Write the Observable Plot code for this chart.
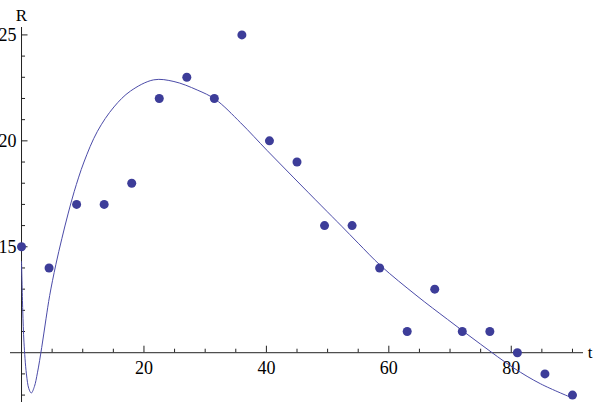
<!DOCTYPE html>
<html>
<head>
<meta charset="utf-8">
<script src="https://cdn.jsdelivr.net/npm/d3@7"></script>
<script src="https://cdn.jsdelivr.net/npm/@observablehq/plot@0.6"></script>
<style>
  html, body { margin: 0; padding: 0; background: #fff; }
  svg text { font-family: "Liberation Serif", "Times New Roman", serif !important; }
</style>
</head>
<body>
<div id="chart"></div>
<script>
// Observed data points
const tValues = [0, 4.5, 9, 13.5, 18, 22.5, 27, 31.5, 36, 40.5, 45, 49.5, 54, 58.5, 63, 67.5, 72, 76.5, 81, 85.5, 90];
const rValues = [15, 14, 17, 17, 18, 22, 23, 22, 25, 20, 19, 16, 16, 14, 11, 13, 11, 11, 10, 9, 8];

// Fitted curve
const fitT = [0, 0.2, 0.4, 0.8, 1.2, 1.6, 2.1, 2.6, 3.3, 4.0, 4.6, 5.6, 6.6, 7.6, 8.6, 10.2, 12.4, 15.1, 17.8, 21.6, 24.9, 28.7, 31.7, 35.8, 40.1, 44.5, 49.0, 52.3, 55.0, 58.7, 64.6, 69.6, 75.0, 80.4, 84.8, 90];
const fitR = [14.3, 12.0, 10.5, 9.0, 8.3, 8.1, 8.4, 9.05, 10.25, 11.6, 12.7, 14.15, 15.4, 16.55, 17.6, 19.0, 20.45, 21.6, 22.35, 22.88, 22.8, 22.4, 21.95, 20.85, 19.55, 18.25, 16.93, 15.97, 15.17, 14.1, 12.68, 11.57, 10.4, 9.28, 8.53, 7.86];

// Axes
const xMajorTicks = [20, 40, 60, 80];
const xMinorTicks = [5, 10, 15, 25, 30, 35, 45, 50, 55, 65, 70, 75, 85, 90];
const yMajorTicks = [15, 20, 25];
const yMinorTicks = [8, 9, 11, 12, 13, 14, 16, 17, 18, 19, 21, 22, 23, 24];
const xAxisExtent = [-1.8, 91.8];
const yAxisExtent = [7.65, 25.35];
const originT = 0;
const originR = 10;
const xLabel = "t";
const yLabel = "R";

const points = tValues.map((t, i) => ({t, R: rValues[i]}));
const fit = fitT.map((t, i) => ({t, R: fitR[i]}));

const axisColor = "#222";
const serif = "'Liberation Serif', 'Times New Roman', serif";

const chart = Plot.plot({
  width: 596,
  height: 402,
  marginLeft: 10,
  marginRight: 13,
  marginTop: 27,
  marginBottom: 0,
  x: {domain: xAxisExtent, axis: null},
  y: {domain: yAxisExtent, axis: null},
  style: {fontFamily: serif, background: "#fff", overflow: "visible"},
  marks: [
    // axis lines
    Plot.ruleY([originR], {stroke: axisColor, strokeWidth: 1}),
    Plot.ruleX([originT], {stroke: axisColor, strokeWidth: 1}),
    // x ticks (pointing up)
    Plot.ruleX(xMinorTicks, {x: d => d, y1: originR, y2: originR, insetBottom: 3.5, stroke: axisColor}),
    Plot.ruleX(xMajorTicks, {x: d => d, y1: originR, y2: originR, insetBottom: 6.5, stroke: axisColor}),
    // y ticks (pointing right)
    Plot.ruleY(yMinorTicks, {y: d => d, x1: originT, x2: originT, insetLeft: 4, stroke: axisColor}),
    Plot.ruleY(yMajorTicks, {y: d => d, x1: originT, x2: originT, insetLeft: 6.5, stroke: axisColor}),
    // tick labels
    Plot.text(xMajorTicks, {x: d => d, y: originR, text: d => String(d), dy: 16, fontSize: 18, fontFamily: serif, fill: "#000"}),
    Plot.text(yMajorTicks, {x: originT, y: d => d, text: d => String(d), dx: -5, textAnchor: "end", fontSize: 18, fontFamily: serif, fill: "#000"}),
    // axis labels
    Plot.text([yLabel], {x: originT, frameAnchor: "top", text: d => d, dy: -19, fontSize: 17, fontFamily: serif, fill: "#000"}),
    Plot.text([xLabel], {y: originR, frameAnchor: "right", text: d => d, dx: 9, fontSize: 17, fontFamily: serif, fill: "#000"}),
    // fitted curve
    Plot.line(fit, {x: "t", y: "R", stroke: "#4b4ba8", strokeWidth: 1, curve: "catmull-rom"}),
    // data points
    Plot.dot(points, {x: "t", y: "R", r: 4.5, fill: "#3d3d99", stroke: "none"})
  ]
});

document.getElementById("chart").appendChild(chart);
</script>
</body>
</html>
